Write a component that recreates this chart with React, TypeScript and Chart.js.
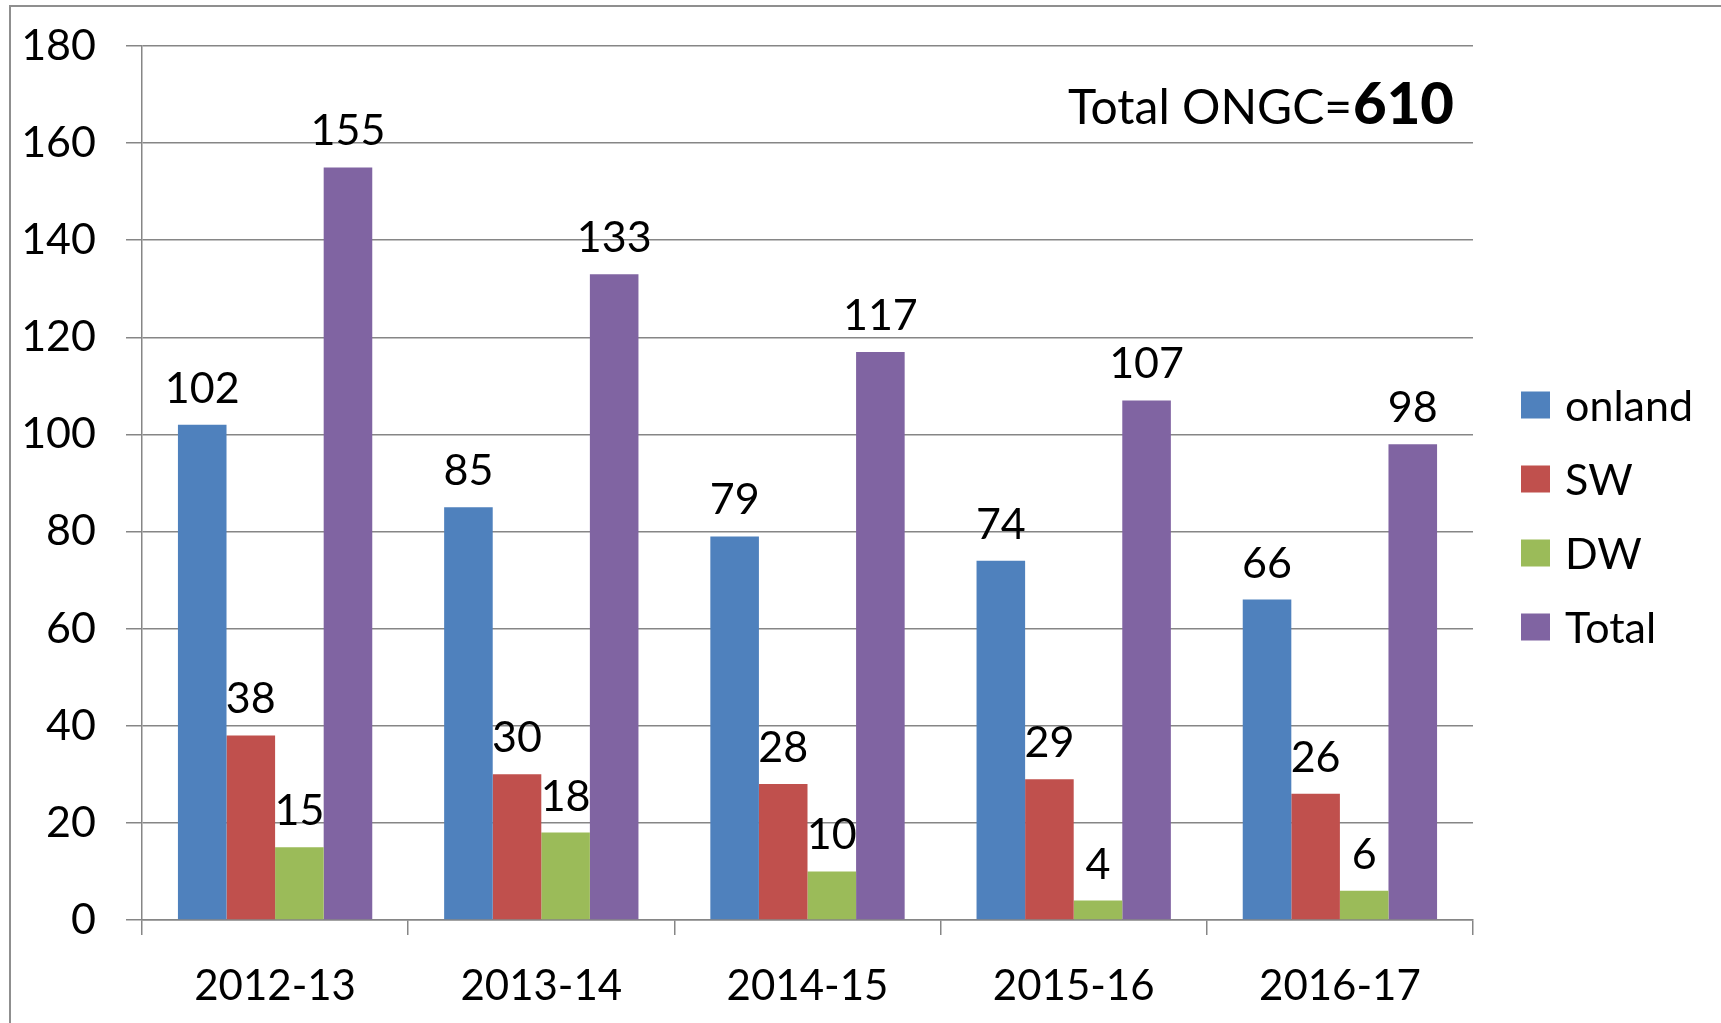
import React, { useEffect, useRef } from "react";
import { Chart, registerables } from "chart.js";

Chart.register(...registerables);

const categories = ["2012-13", "2013-14", "2014-15", "2015-16", "2016-17"];
const onland = [102, 85, 79, 74, 66];
const sw = [38, 30, 28, 29, 26];
const dw = [15, 18, 10, 4, 6];
const total = [155, 133, 117, 107, 98];
const seriesNames = ["onland", "SW", "DW", "Total"];
const seriesColors = ["#4F81BD", "#C0504D", "#9BBB59", "#8064A2"];
const yMin = 0;
const yMax = 180;
const yStep = 20;
const titleText = "Total ONGC=";
const titleValue = "610";

const FONT = "Lato, 'Open Sans', sans-serif";
const GRID = "#868686";

const valueLabels = {
  id: "valueLabels",
  afterDatasetsDraw(chart: any) {
    const ctx = chart.ctx;
    ctx.save();
    ctx.font = `43px ${FONT}`;
    ctx.fillStyle = "#000";
    ctx.textAlign = "center";
    ctx.textBaseline = "alphabetic";
    chart.data.datasets.forEach((ds: any, di: number) => {
      const meta = chart.getDatasetMeta(di);
      meta.data.forEach((el: any, i: number) => {
        ctx.fillText(String(ds.data[i]), el.x, el.y - 22);
      });
    });
    ctx.restore();
  },
};

const customLegend = {
  id: "customLegend",
  afterDraw(chart: any) {
    const ctx = chart.ctx;
    const area = chart.chartArea;
    ctx.save();
    ctx.font = `43px ${FONT}`;
    ctx.textAlign = "left";
    ctx.textBaseline = "middle";
    chart.data.datasets.forEach((ds: any, i: number) => {
      const cy = area.top + 359 + i * 74;
      const bx = area.right + 48;
      ctx.fillStyle = ds.backgroundColor;
      ctx.fillRect(bx, cy - 13.5, 29, 27);
      ctx.fillStyle = "#000";
      ctx.fillText(ds.label, bx + 44, cy + 2);
    });
    ctx.restore();
  },
};

const titlePlugin = {
  id: "titlePlugin",
  afterDraw(chart: any) {
    const ctx = chart.ctx;
    const area = chart.chartArea;
    const right = area.right - 19;
    const base = area.top + 78;
    ctx.save();
    ctx.fillStyle = "#000";
    ctx.textBaseline = "alphabetic";
    ctx.textAlign = "right";
    ctx.font = `900 58px ${FONT}`;
    const bw = ctx.measureText(titleValue).width;
    ctx.fillText(titleValue, right, base);
    ctx.font = `48px ${FONT}`;
    ctx.fillText(titleText, right - bw - 1, base);
    ctx.restore();
  },
};

export default function App() {
  const ref = useRef<HTMLCanvasElement | null>(null);

  useEffect(() => {
    document.body.style.overflow = "hidden";
    const canvas = ref.current;
    if (!canvas) return;
    const datasets = [onland, sw, dw, total].map((d, i) => ({
      label: seriesNames[i],
      data: d,
      backgroundColor: seriesColors[i],
      borderWidth: 0,
      categoryPercentage: 0.73,
      barPercentage: 1.0,
    }));
    const chart = new Chart(canvas, {
      type: "bar",
      data: { labels: categories, datasets },
      options: {
        responsive: false,
        animation: false,
        devicePixelRatio: 1,
        layout: { padding: { top: 46, right: 248, left: 0, bottom: 0 } },
        plugins: {
          legend: { display: false },
          tooltip: { enabled: false },
          title: { display: false },
        },
        scales: {
          x: {
            grid: {
              display: true,
              drawOnChartArea: false,
              drawTicks: true,
              tickLength: 15,
              color: GRID,
              lineWidth: 1.5,
              offset: true,
            },
            border: { display: true, color: GRID, width: 1.5 },
            ticks: {
              color: "#000",
              font: { family: FONT, size: 42 },
              padding: 26,
              maxRotation: 0,
            },
            afterFit: (scale: any) => {
              scale.height = 103;
              scale.paddingLeft = 0;
              scale.paddingRight = 0;
            },
          },
          y: {
            min: yMin,
            max: yMax,
            ticks: {
              stepSize: yStep,
              color: "#000",
              font: { family: FONT, size: 43 },
              padding: 30,
            },
            grid: {
              color: GRID,
              lineWidth: 1.5,
              tickLength: 16,
              drawTicks: true,
            },
            border: { display: true, color: GRID, width: 1.5 },
            afterFit: (scale: any) => {
              scale.width = 142;
              scale.paddingTop = 0;
              scale.paddingBottom = 0;
            },
          },
        },
      },
      plugins: [valueLabels, customLegend, titlePlugin],
    });
    return () => chart.destroy();
  }, []);

  return (
    <div
      style={{
        position: "absolute",
        left: 0,
        top: 0,
        width: 1721,
        height: 1023,
        overflow: "hidden",
        background: "#fff",
      }}
    >
      <div
        style={{
          position: "absolute",
          left: 9,
          top: 5,
          width: 1721,
          height: 1023,
          borderTop: "2px solid #8f8f8f",
          borderLeft: "2px solid #8f8f8f",
        }}
      />
      <canvas
        ref={ref}
        width={1721}
        height={1023}
        style={{ position: "absolute", left: 0, top: 0, display: "block" }}
      />
    </div>
  );
}
